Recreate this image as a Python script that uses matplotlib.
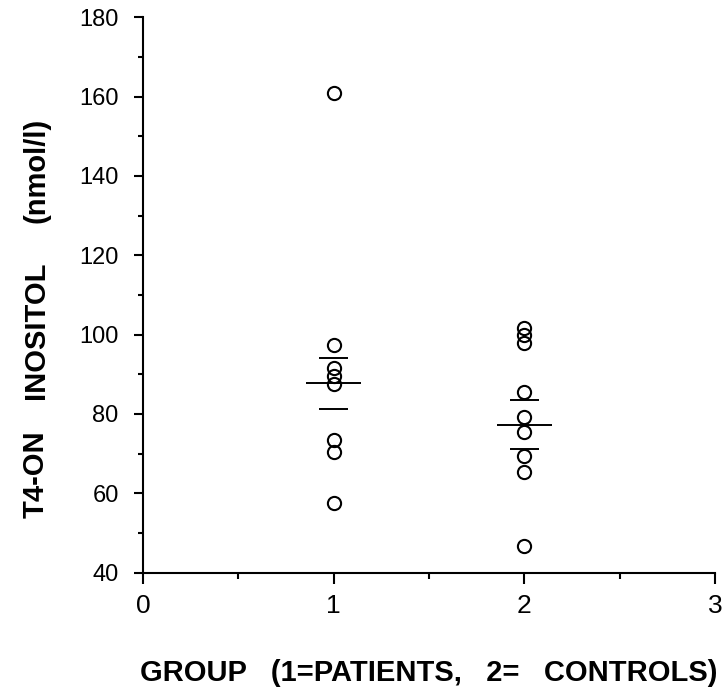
import matplotlib
matplotlib.use("Agg")
import matplotlib.pyplot as plt
from matplotlib.ticker import MultipleLocator

# Individual T4-ON inositol values (nmol/l) per group
group_labels = [1, 2]
patients = [161.0, 97.5, 91.5, 89.5, 87.5, 73.5, 70.5, 57.5]
controls = [101.8, 100.0, 98.0, 85.5, 79.3, 75.5, 69.3, 65.5, 46.8]

# Group mean and standard error bars
group_means = [87.7, 77.3]
group_sem = [6.4, 6.2]

# Axis title words, laid out with wide gaps between them
ylabel_words = ["T4-ON", "INOSITOL", "(nmol/l)"]
xlabel_text = "GROUP   (1=PATIENTS,   2=   CONTROLS)"

fig = plt.figure(figsize=(7.23, 7.00), dpi=100)
ax = fig.add_axes([0.1978, 0.1819, 0.9890 - 0.1978, 0.9753 - 0.1819])

font = "Liberation Sans"
for xg, vals in zip(group_labels, [patients, controls]):
    ax.plot([xg] * len(vals), vals, linestyle="none", marker="o",
            markersize=9.5, markerfacecolor="none", markeredgecolor="black",
            markeredgewidth=1.5, clip_on=False, zorder=3)

for xg, m, s in zip(group_labels, group_means, group_sem):
    ax.hlines(m, xg - 0.145, xg + 0.145, color="black", linewidth=1.4, zorder=4)
    ax.hlines([m - s, m + s], xg - 0.075, xg + 0.075, color="black",
              linewidth=1.4, zorder=4)

ax.set_xlim(0, 3)
ax.set_ylim(40, 180)
ax.spines["top"].set_visible(False)
ax.spines["right"].set_visible(False)
for sp in ("left", "bottom"):
    ax.spines[sp].set_linewidth(1.5)

ax.xaxis.set_major_locator(MultipleLocator(1))
ax.xaxis.set_minor_locator(MultipleLocator(0.5))
ax.yaxis.set_major_locator(MultipleLocator(20))
ax.yaxis.set_minor_locator(MultipleLocator(10))

ax.tick_params(axis="x", which="major", direction="out", length=8, width=1.5,
               pad=7, labelsize=19)
ax.tick_params(axis="x", which="minor", direction="out", length=4, width=1.5)
ax.tick_params(axis="y", which="major", direction="out", length=6.5, width=1.5,
               pad=11, labelsize=17)
ax.tick_params(axis="y", which="minor", direction="out", length=3.6, width=1.5)
for lbl in ax.get_xticklabels() + ax.get_yticklabels():
    lbl.set_fontfamily(font)

fig.text(429 / 723, 1 - 673 / 700, xlabel_text,
         ha="center", va="center", fontsize=21, fontweight="bold",
         family=font)

# y title: each word centred at its own height (pixels from top)
word_centres = [474, 330, 170]
for word, yc in zip(ylabel_words, word_centres):
    fig.text(36 / 723, 1 - yc / 700, word, ha="center", va="center",
             rotation=90, fontsize=21, fontweight="bold", family=font)

fig.savefig("out.png", dpi=100, facecolor="white")
